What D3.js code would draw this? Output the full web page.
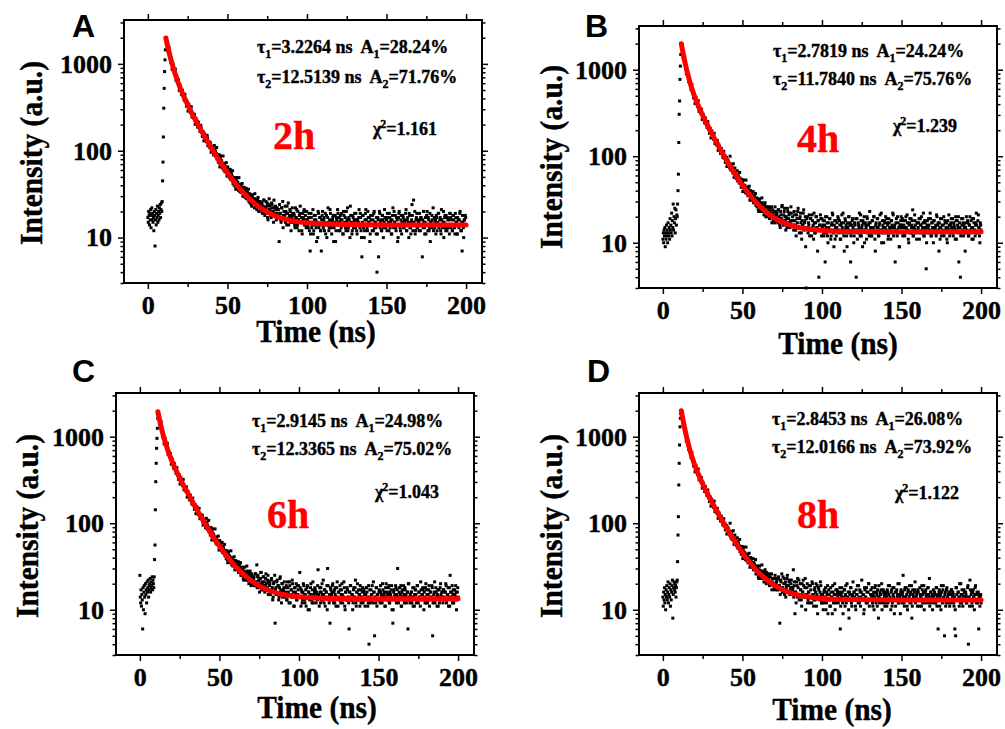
<!DOCTYPE html>
<html>
<head>
<meta charset="utf-8">
<script src="https://cdn.jsdelivr.net/npm/d3@7"></script>
<style>
body { margin: 0; background: #fff; }
svg text { font-family: "Liberation Serif", "Times New Roman", serif; font-weight: bold; stroke: #000; stroke-width: 0.4px; }
</style>
</head>
<body>
<script>
// decay counts. head: t = 0 .. 11.25 every 0.25 ns
// tail: t = 11.5 .. 200 every 0.5 ns, tail2: t = 11.75 .. 199.75 every 0.5 ns
var headA = [17,15,20,18,14,19,16,21,13,18,22,16,19,15,17,12,20,18,8,16,21,14,19,17,23,15,18,20,16,22,19,24,17,21,25,20,
  26,45,74,144,309,523,815,1113,1452,1990];
var tailA = [1935,1711,1602,1419,1340,1198,1131,1012,979,887,
  852,769,748,701,633,620,561,559,509,503, 461,458,417,419,371,382,347,345,316,322,
  290,298,266,270,249,255,226,236,211,219, 205,187,196,172,183,161,166,159,140,151,
  144,128,139,119,126,108,117,112,98,109, 101,89,97,93,80,88,84,72,81,77,
  74,63,71,68,57,65,62,53,60,58, 56,47,54,51,42,49,47,39,46,44,
  43,35,41,40,33,38,37,30,36,35, 34,28,33,31,26,32,30,24,29,28,
  27,22,28,26,21,27,25,20,26,24,
  24,19,23,27,18,22,20,25,16,21,23,19,17,24,20,15,22,18,21,19,
  18,21,9,19,16,22,17,13,20,18,15,19,23,16,14,18,20,12,17,19,
  15,18,13,17,21,14,16,12,19,15,17,11,16,20,14,18,13,16,
  14,17,12,7,19,13,15,11,18,14,16,9,15,20,13,17,12,7,18,14,
  16,12,19,14,10,17,15,13,21,14,11,16,18,13,15,9,17,14,19,12,
  15,18,13,16,11,20,14,17,12,15,22,13,16,10,18,14,12,17,15,19,
  13,16,11,15,17,14,19,12,6,18,13,10,16,21,14,12,17,15,9,18,
  14,12,16,19,13,15,11,4,17,6,20,13,16,12,18,10,15,17,13,16,
  19,14,12,17,15,11,16,22,13,15,18,12,14,9,17,20,13,16,11,15,
  17,13,15,19,12,16,14,10,18,13,15,24,12,27,14,11,16,19,13,15,
  12,16,17,14,6,13,15,11,17,14,20,12,16,13,9,15,18,14,12,17,
  15,11,17,14,19,13,16,12,21,14,15,10,17,13,18,12,16,14,11,19,
  13,16,12,18,14,11,17,15,11,16,13,19,14,12,7,15,10,16,18,14];
var tail2A = [1984,1700,1401,1554,1244,1050,1136,863,1002,872,
  763,871,645,691,612,658,495,566,500,441, 497,447,385,446,371,326,365,286,343,306,
  275,322,244,266,240,263,201,234,209,187, 213,193,167,196,165,146,164,130,156,140,
  127,150,114,124,113,124,96,112,100,90, 115,103,86,109,87,74,90,65,87,77,
  68,87,60,70,62,73,51,65,57,49, 61,55,46,59,47,40,49,36,49,43,
  38,49,34,40,36,42,30,38,34,29, 37,33,28,36,29,25,31,23,31,28,
  25,32,23,27,24,29,20,26,23,21,
  25,20,27,22,19,26,23,17,24,28,21,18,25,22,20,27,19,23,16,22,
  21,17,24,19,15,22,26,18,16,23,20,14,19,25,17,21,15,18,22,16,
  19,14,22,17,13,20,16,18,23,15,12,19,17,21,14,16,20,
  16,13,19,15,11,17,14,21,12,16,18,13,15,10,19,14,17,12,16,20,
  13,17,15,11,18,14,22,12,16,19,13,15,17,9,14,18,12,16,21,15,
  17,12,16,19,14,11,18,15,13,20,16,12,17,14,23,15,11,18,13,16,
  14,19,12,16,15,21,13,17,10,15,18,14,12,19,16,13,20,15,17,11,
  16,14,18,12,20,15,13,17,11,16,14,19,15,12,18,16,13,21,14,17,
  12,17,15,19,13,16,11,18,14,20,15,13,17,16,10,19,14,12,18,15,
  18,13,16,14,21,12,17,15,19,13,11,16,18,14,15,20,12,17,13,16,
  15,19,12,17,14,16,20,13,15,11,18,14,17,12,19,15,13,16,22,14,
  13,16,18,12,15,19,14,17,11,16,13,20,15,18,12,14,17,13,16,19,
  17,14,12,18,16,13,19,15,11,17,14,16,20,12,15,18,13,16,14,17];

var headB = [11,13,10,14,12,15,9,13,11,16,12,14,10,17,13,12,15,11,19,14,16,13,22,12,18,15,28,14,20,17,25,13,19,24,16,21,
  20,28,40,62,144,305,435,773,1100,1500];
var tailB = [1978,1801,1570,1446,1269,1183,1048,987,872,838,
  771,689,672,601,590,528,524,470,467,423, 419,378,385,344,349,311,319,286,293,262,
  266,239,246,219,226,203,208,187,192,171, 176,158,163,145,152,134,141,125,130,116,
  121,109,104,108,95,101,89,97,82,88, 84,73,79,70,75,64,71,59,66,62,
  61,52,58,49,56,51,44,50,47,41, 46,38,44,42,35,41,39,33,38,36,
  35,29,34,32,27,33,31,24,30,29, 28,23,29,26,21,27,25,20,26,24,
  23,19,25,22,17,24,21,18,26,20,
  22,18,24,20,16,23,19,27,17,21,25,18,20,15,23,19,22,17,26,18,
  20,16,23,18,14,21,17,25,15,19,22,13,18,16,24,17,20,3,19,15,
  17,21,14,19,12,18,16,22,13,17,20,15,18,4,16,21,14,19,
  16,13,18,6,15,20,12,17,14,19,11,16,22,14,9,18,15,12,17,20,
  14,18,11,16,21,13,17,8,19,15,12,17,14,20,16,6,13,18,15,10,
  17,14,4,19,13,16,22,12,18,15,9,17,20,14,16,11,19,13,17,23,
  15,12,18,14,20,13,8,17,15,19,12,16,21,14,10,18,15,13,17,20,
  14,17,11,19,15,13,18,16,22,12,15,6,17,14,20,13,9,16,18,15,
  19,13,16,12,18,15,21,14,10,17,13,19,16,24,12,15,18,14,11,17,
  15,19,13,16,20,14,17,12,18,15,5,16,13,19,14,22,12,17,15,10,
  18,14,16,21,13,17,8,15,19,12,16,14,20,13,17,15,11,18,14,16,
  13,17,15,19,12,16,14,20,11,18,15,6,17,4,13,16,19,12,15,8,
  17,14,18,12,16,20,13,15,19,11,17,14,16,22,13,18,15,12,17,14];
var tail2B = [1787,1940,1372,1406,1193,1233,897,990,848,727,
  799,700,590,671,550,474,524,406,480,425, 378,438,329,357,321,349,266,306,274,243,
  276,249,215,251,209,184,208,163,196,176, 158,184,140,153,138,152,117,135,121,108,
  123,112,97,114,96,85,95,76,91,82, 78,100,69,81,71,82,57,73,64,55,
  68,61,51,65,52,44,54,39,53,46, 41,53,37,43,38,45,31,40,35,31,
  39,35,29,37,30,26,32,23,32,28, 25,33,23,27,24,29,20,26,23,21,
  26,23,20,26,21,18,23,17,23,21,
  22,17,24,19,15,21,26,18,16,23,20,14,19,25,17,21,15,18,22,16,
  18,14,21,16,12,19,23,15,13,20,17,11,16,22,14,18,9,15,20,13,
  16,12,19,14,21,15,11,17,13,20,15,8,18,14,16,19,12,
  15,18,12,16,20,13,17,10,15,19,14,12,17,21,13,16,11,18,15,14,
  19,13,16,11,17,15,22,12,14,18,16,9,15,20,13,17,12,16,19,14,
  12,16,19,14,11,17,15,13,21,12,16,18,14,10,17,15,20,13,16,12,
  17,14,12,18,15,20,11,16,13,19,15,12,17,14,22,13,16,10,18,15,
  13,19,16,12,17,14,11,18,15,21,13,16,14,19,12,17,15,9,16,20,
  16,12,18,15,13,20,14,17,11,16,19,13,15,18,12,14,21,16,13,17,
  14,17,11,19,16,13,15,22,12,17,14,10,18,15,16,13,19,12,17,14,
  18,13,15,12,20,16,14,17,11,15,19,13,16,12,18,14,17,10,15,21,
  12,16,19,14,13,17,15,11,18,14,16,20,13,15,12,19,14,17,16,13,
  15,20,13,17,12,16,14,18,11,15,19,14,12,17,16,13,21,15,10,16];

var headC = [25,14,12,17,11,15,13,6,18,10,16,19,14,9,20,15,17,12,21,16,18,22,14,19,17,20,23,16,18,21,19,24,17,22,20,18,
  24,38,56,143,302,493,735,957,1250,1630];
var tailC = [1925,1705,1512,1402,1251,1180,1059,1004,915,868,
  812,741,717,655,638,584,570,525,514,474, 466,431,426,392,389,358,357,330,327,301,
  302,279,280,256,259,236,239,218,221,201, 204,186,189,171,176,160,163,149,152,137,
  142,128,124,127,113,119,104,111,98,104, 99,87,94,91,80,86,83,71,79,74,
  72,63,69,66,57,63,60,52,58,55, 54,46,52,49,42,48,45,38,44,42,
  41,35,40,38,32,37,36,29,34,33, 32,27,33,30,25,31,29,23,28,27,
  26,22,28,25,20,27,24,19,25,23,
  23,19,26,21,33,24,18,22,20,27,17,21,24,19,16,23,20,18,25,21,
  19,15,22,17,13,20,16,7,18,21,15,19,14,23,17,12,20,16,18,14,
  16,19,13,18,15,21,12,17,14,20,16,11,18,15,13,19,17,14,
  27,14,17,12,16,19,13,15,11,18,14,16,10,15,20,13,17,12,15,18,
  14,16,13,29,15,18,12,16,20,13,15,17,11,16,19,30,14,12,7,17,
  15,19,13,16,12,18,14,21,11,16,13,17,15,20,12,14,18,10,16,13,
  17,14,6,16,19,13,15,12,18,14,22,11,16,13,17,15,19,12,14,18,
  13,16,11,15,18,14,12,4,17,13,15,19,12,16,5,14,18,11,15,13,
  17,12,16,14,20,13,15,11,18,14,16,13,19,12,15,17,10,7,16,14,
  13,18,15,30,12,16,14,19,11,17,13,15,18,14,12,16,6,20,13,15,
  16,12,18,14,11,17,15,13,19,12,16,14,21,13,15,17,10,14,18,12,
  15,13,17,11,16,14,19,5,13,16,12,18,14,15,11,17,13,20,14,16,
  12,17,14,16,19,13,15,11,18,25,14,16,12,17,13,15,19,10,16,14];
var tail2C = [1931,1646,1351,1495,1194,1007,1088,827,961,836,
  733,838,622,667,593,638,482,552,489,432, 488,439,379,439,366,321,360,284,339,305,
  274,321,243,265,239,263,200,233,209,186, 211,191,166,195,164,145,163,129,156,139,
  126,149,113,124,113,124,95,111,99,89, 114,102,85,108,86,73,89,64,86,75,
  67,86,59,69,61,71,49,63,55,48, 60,53,45,57,46,39,48,35,47,42,
  37,48,33,39,35,41,29,37,33,29, 36,32,27,35,29,25,31,22,31,27,
  24,32,22,26,24,28,20,26,23,20,
  24,19,26,21,18,25,22,16,23,27,20,17,24,21,19,26,18,22,15,21,
  20,16,23,18,14,21,25,17,15,22,19,13,18,24,16,20,14,17,21,15,
  18,13,21,16,12,19,15,17,22,14,11,18,16,20,13,15,19,
  14,18,11,16,13,20,15,12,17,14,19,10,16,13,18,15,12,21,14,16,
  17,12,15,19,14,11,16,18,13,15,22,12,17,14,16,10,19,13,15,18,
  13,16,20,12,17,15,11,18,14,16,13,19,12,17,15,14,21,11,16,13,
  18,14,12,16,19,13,15,10,17,14,18,12,16,20,13,15,11,17,14,16,
  12,17,15,13,18,16,11,19,14,12,17,15,13,21,16,14,12,18,15,13,
  16,13,19,15,12,17,14,16,11,20,13,15,18,12,16,14,19,13,10,17,
  15,19,12,17,14,13,18,15,11,16,14,19,12,17,15,13,16,20,14,12,
  13,16,14,11,18,15,17,12,19,13,16,14,11,17,15,18,13,16,12,20,
  17,12,15,19,13,16,14,18,12,15,21,13,16,11,17,14,12,18,15,16,
  14,17,13,16,20,12,15,18,14,11,16,13,19,15,12,17,14,16,13,18];

var headD = [14,11,16,13,18,12,15,10,17,14,19,13,16,21,12,15,18,14,20,11,17,13,16,19,22,8,15,18,21,17,20,16,19,14,18,21,
  22,36,73,119,277,493,802,1300,1630,1850];
var tailD = [1984,1790,1566,1437,1262,1171,1036,971,864,819,
  757,680,655,590,573,517,507,459,452,410, 404,369,367,334,335,303,304,277,280,253,
  256,232,235,213,218,196,201,181,186,166, 171,153,159,142,148,131,137,122,128,113,
  119,107,101,106,93,99,88,94,81,87, 83,73,79,76,65,72,69,59,66,62,
  60,52,58,55,47,53,51,43,49,46, 45,38,44,41,35,40,38,32,37,35,
  34,29,33,31,26,32,30,24,29,28, 27,23,28,26,21,26,24,20,25,23,
  23,19,24,21,17,23,20,18,25,20,
  21,17,23,19,7,22,18,16,24,20,15,21,18,23,16,19,22,17,20,18,
  17,29,19,9,16,21,14,18,22,15,17,13,20,16,19,14,23,15,18,12,
  16,19,14,17,12,20,15,13,18,16,11,19,14,17,13,21,15,12,
  15,12,17,14,10,16,19,13,15,11,18,14,9,16,13,20,12,15,17,14,
  13,16,6,15,18,12,14,17,11,19,14,13,16,8,15,18,12,14,21,16,
  14,11,17,15,13,19,12,16,14,22,13,15,10,17,14,18,12,16,20,13,
  15,13,18,11,16,14,19,12,15,17,8,14,16,13,20,12,17,15,11,16,
  14,17,12,15,19,13,16,11,18,14,9,16,13,17,15,12,20,14,16,13,
  15,25,12,17,14,18,11,16,13,19,15,12,8,17,14,16,21,13,15,11,
  16,13,18,14,11,17,15,19,12,16,14,13,18,15,23,12,16,14,10,17,
  13,15,12,18,14,6,16,11,15,19,13,17,14,5,16,12,18,14,15,13,
  16,12,17,14,15,11,6,5,18,13,16,14,20,12,15,17,11,14,16,13,
  15,12,18,4,14,22,13,16,11,17,14,15,19,12,16,13,6,15,14,12];
var tail2D = [1786,1937,1367,1398,1184,1221,886,976,834,713,
  783,684,575,653,533,460,507,393,464,411, 365,423,318,345,309,336,255,294,264,233,
  265,239,208,242,202,178,200,158,189,170, 153,180,136,149,135,148,114,132,119,106,
  121,110,96,113,94,84,94,75,90,81, 78,100,68,80,71,82,57,73,64,55,
  68,61,51,65,52,44,54,39,53,46, 41,53,37,43,38,45,31,40,35,31,
  39,35,29,38,30,26,32,23,32,28, 25,33,23,27,25,29,21,27,24,21,
  26,24,20,26,21,19,23,17,23,21,
  22,17,24,19,15,21,26,18,16,23,20,14,19,25,16,21,15,18,22,16,
  18,14,21,16,12,19,23,15,13,20,17,11,16,22,14,18,10,15,20,13,
  16,12,19,14,21,15,11,17,13,20,15,9,18,14,16,19,12,
  14,10,16,13,18,12,15,9,17,13,11,16,14,19,12,15,10,17,13,16,
  12,15,18,11,14,16,9,13,17,15,12,20,14,10,16,13,18,11,15,14,
  16,13,10,15,19,12,14,17,11,16,13,15,9,18,14,12,16,13,20,11,
  13,17,14,12,15,10,18,13,16,11,14,19,12,15,17,10,13,16,14,12,
  15,11,16,19,13,14,10,17,12,15,18,13,11,16,14,20,12,15,9,17,
  12,16,14,11,18,13,15,10,17,14,12,16,19,11,15,13,17,12,14,16,
  17,13,11,15,14,19,12,16,10,13,17,15,12,18,14,11,16,13,15,12,
  14,16,12,18,11,15,13,17,14,10,16,12,19,13,15,11,17,14,12,16,
  11,15,17,13,16,12,14,10,18,15,13,16,11,14,20,12,15,13,17,14,
  16,12,14,19,13,11,17,15,12,16,14,10,18,13,15,12,16,14,11,15];

// fitted curves (red)
var fitTA = [11.3,13,15,18,21,25,30,35,40,45,50,55,60,70,80,90,100,120,150,200];
var fitA = [1990,1442,1036,687,492,338,224,154,107,76.5,56,42,32.8,22.5,17.8,15.7,14.8,14.2,14,14];
var fitTB = [11.6,13,15,18,21,25,30,35,40,45,50,55,60,70,80,90,100,120,150,200];
var fitB = [2000,1457,987,624,437,297,195,131,90,63.7,46.3,34.9,27.5,19.4,16.0,14.5,13.9,13.5,13.4,13.4];
var fitTC = [11.3,13,15,18,21,25,30,35,40,45,50,55,60,70,80,90,100,120,150,200];
var fitC = [1943,1388,992,663,481,335,224,153,106,75,54.6,40.9,31.7,21.6,17.0,15.0,14.1,13.5,13.4,13.4];
var fitTD = [11.6,13,15,18,21,25,30,35,40,45,50,55,60,70,80,90,100,120,150,200];
var fitD = [2000,1450,974,607,422,286,187,127,88,62.5,45.7,34.5,27.2,19.2,15.7,14.2,13.5,13.1,13,13];

var panelIds = ["A", "B", "C", "D"];
var hours = ["2h", "4h", "6h", "8h"];
var tau1 = ["3.2264", "2.7819", "2.9145", "2.8453"];
var amp1 = ["28.24", "24.24", "24.98", "26.08"];
var tau2 = ["12.5139", "11.7840", "12.3365", "12.0166"];
var amp2 = ["71.76", "75.76", "75.02", "73.92"];
var chi2 = ["1.161", "1.239", "1.043", "1.122"];

var xTicks = [0, 50, 100, 150, 200];
var xMinor = [25, 75, 125, 175];
var yTicks = [10, 100, 1000];
var yMinor = [3,4,5,6,7,8,9,20,30,40,50,60,70,80,90,200,300,400,500,600,700,800,900,2000,3000];

var headStep = 0.25, tailStart = 11.5, tail2Start = 11.75, tailStep = 0.5;

// layout of each panel (pixels)
var panels = [
  {head: headA, tail: tailA, tail2: tail2A, fitT: fitTA, fit: fitA, left: 124, top: 20, h: 263,
   lab: [72, 37], p1: [133, 33], p2: [133, 63], chi: [249, 115], hr: [149, 129], xt: [316, 342], yt: [42, 153]},
  {head: headB, tail: tailB, tail2: tail2B, fitT: fitTB, fit: fitB, left: 639, top: 26, h: 262,
   lab: [585, 37], p1: [134, 31], p2: [134, 59], chi: [254, 106], hr: [158, 126], xt: [838, 354], yt: [562, 157]},
  {head: headC, tail: tailC, tail2: tail2C, fitT: fitTC, fit: fitC, left: 116, top: 393, h: 262,
   lab: [72, 382], p1: [136, 34], p2: [136, 62], chi: [259, 105], hr: [151, 135], xt: [317, 718], yt: [38, 526]},
  {head: headD, tail: tailD, tail2: tail2D, fitT: fitTD, fit: fitD, left: 639, top: 393, h: 262,
   lab: [587, 382], p1: [133, 32], p2: [133, 60], chi: [256, 106], hr: [158, 135], xt: [832, 720], yt: [562, 526]}
];

var width = 1005, height = 729;
var svg = d3.select("body").append("svg")
    .attr("width", width)
    .attr("height", height);

panels.forEach(drawPanel);

function drawPanel(p, k) {
  var w = 358, h = p.h;
  var g = svg.append("g").attr("transform", "translate(" + p.left + "," + p.top + ")");
  var x = d3.scaleLinear().domain([-15, 210]).range([0, w]);
  var y = d3.scaleLog().domain([3, 3200]).range([h, 0]);

  var pts = p.head.map(function(v, i) { return [i * headStep, v]; })
    .concat(p.tail.map(function(v, i) { return [tailStart + i * tailStep, v]; }))
    .concat(p.tail2.map(function(v, i) { return [tail2Start + i * tailStep, v]; }));

  g.selectAll("rect.pt").data(pts).enter().append("rect")
    .attr("class", "pt")
    .attr("x", function(d) { return x(d[0]) - 1.5; })
    .attr("y", function(d) { return y(d[1]) - 1.5; })
    .attr("width", 3)
    .attr("height", 3)
    .attr("fill", "#000");

  var line = d3.line()
    .x(function(d, i) { return x(p.fitT[i]); })
    .y(function(d) { return y(d); })
    .curve(d3.curveMonotoneX);
  g.append("path").datum(p.fit)
    .attr("d", line)
    .attr("fill", "none")
    .attr("stroke", "#ff0000")
    .attr("stroke-width", 5)
    .attr("stroke-linecap", "round");

  // ticks on all four sides, pointing out
  axis(g, d3.axisBottom(x).tickValues(xTicks).tickSize(6).tickPadding(7), "translate(0," + h + ")", true);
  axis(g, d3.axisBottom(x).tickValues(xMinor).tickSize(4), "translate(0," + h + ")", false);
  axis(g, d3.axisTop(x).tickValues(xTicks).tickSize(6), null, false);
  axis(g, d3.axisTop(x).tickValues(xMinor).tickSize(4), null, false);
  axis(g, d3.axisLeft(y).tickValues(yTicks).tickSize(6).tickPadding(6).tickFormat(d3.format("d")), null, true);
  axis(g, d3.axisLeft(y).tickValues(yMinor).tickSize(3.5), null, false);
  axis(g, d3.axisRight(y).tickValues(yTicks).tickSize(6), "translate(" + w + ",0)", false);
  axis(g, d3.axisRight(y).tickValues(yMinor).tickSize(3.5), "translate(" + w + ",0)", false);

  g.append("rect")
    .attr("width", w)
    .attr("height", h)
    .attr("fill", "none")
    .attr("stroke", "#000")
    .attr("stroke-width", 2);

  paramLine(g, p.p1, "1", tau1[k], amp1[k]);
  paramLine(g, p.p2, "2", tau2[k], amp2[k]);

  var c = g.append("text").attr("x", p.chi[0]).attr("y", p.chi[1]).style("font-size", "18px");
  c.append("tspan").text("\u03c7");
  c.append("tspan").attr("dy", -7).attr("dx", -1).style("font-size", "12px").text("2");
  c.append("tspan").attr("dy", 7).text("=" + chi2[k]);

  g.append("text")
    .attr("x", p.hr[0]).attr("y", p.hr[1])
    .style("font-size", "40px")
    .style("fill", "#ff0000")
    .style("stroke", "#ff0000")
    .text(hours[k]);

  svg.append("text")
    .attr("x", p.lab[0]).attr("y", p.lab[1])
    .style("font-family", "'Liberation Sans', Arial, sans-serif")
    .style("font-size", "32px")
    .style("stroke-width", "0px")
    .text(panelIds[k]);

  svg.append("text")
    .attr("transform", "translate(" + p.xt[0] + "," + p.xt[1] + ") scale(0.92,1)")
    .attr("text-anchor", "middle")
    .style("font-size", "32px")
    .text("Time (ns)");

  svg.append("text")
    .attr("transform", "translate(" + p.yt[0] + "," + p.yt[1] + ") rotate(-90) scale(0.92,1)")
    .attr("text-anchor", "middle")
    .style("font-size", "32px")
    .text("Intensity (a.u.)");
}

function axis(g, gen, transform, labels) {
  var a = g.append("g").call(gen);
  if (transform) a.attr("transform", transform);
  a.attr("font-family", null).attr("font-size", null);
  a.select(".domain").remove();
  a.selectAll("line").attr("stroke", "#000").attr("stroke-width", 1.5);
  if (labels) a.selectAll("text").attr("fill", "#000").style("font-size", "26px");
  else a.selectAll("text").remove();
}

function paramLine(g, pos, n, tau, amp) {
  var t = g.append("text")
    .attr("x", pos[0]).attr("y", pos[1])
    .style("font-size", "18px")
    .style("white-space", "pre");
  t.append("tspan").text("\u03c4");
  t.append("tspan").attr("dy", 5).style("font-size", "12px").text(n);
  t.append("tspan").attr("dy", -5).text("=" + tau + " ns  A");
  t.append("tspan").attr("dy", 5).style("font-size", "12px").text(n);
  t.append("tspan").attr("dy", -5).text("=" + amp + "%");
}
</script>
</body>
</html>
